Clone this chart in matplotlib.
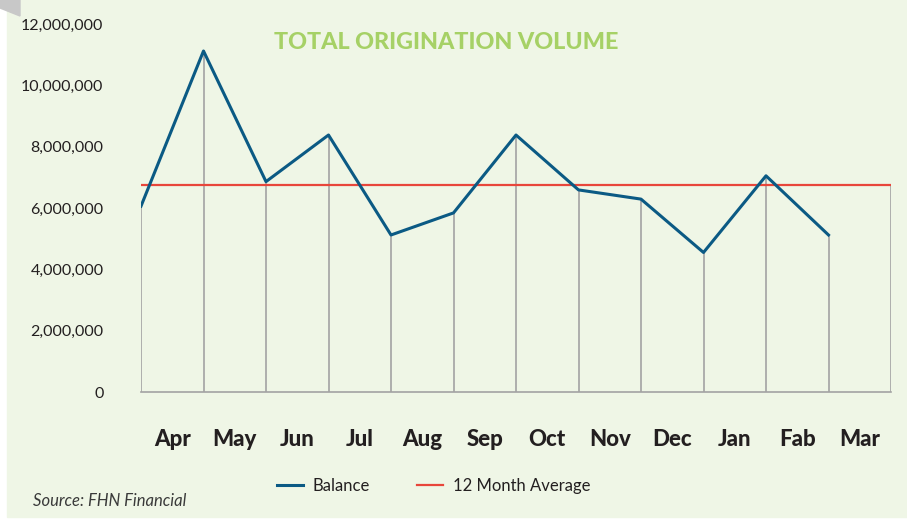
import matplotlib
matplotlib.use('Agg')
import matplotlib.pyplot as plt
from matplotlib.patches import Rectangle, Polygon

# data
months = ['Apr', 'May', 'Jun', 'Jul', 'Aug', 'Sep', 'Oct', 'Nov', 'Dec', 'Jan', 'Fab', 'Mar']
balance = [6060000, 11120000, 6860000, 8380000, 5120000, 5840000,
           8380000, 6590000, 6290000, 4550000, 7050000, 5120000]
avg_value = 6750000
y_ticks = [0, 2000000, 4000000, 6000000, 8000000, 10000000, 12000000]

BG = '#eff6e6'
BLUE = '#0b5a84'
RED = '#e8463b'
GRID = '#a3a3a3'
TEXT = '#231f20'

plt.rcParams['font.family'] = ['Lato', 'DejaVu Sans']

fig = plt.figure(figsize=(9.07, 5.21), dpi=100)
fig.patch.set_facecolor('white')
# light green panel and the little grey corner fold
fig.patches.append(Rectangle((7 / 907, 4 / 521), 900 / 907, 517 / 521,
                             transform=fig.transFigure, color=BG, zorder=-10))
fig.patches.append(Polygon([(0, 1), (20 / 907, 1), (20 / 907, 1 - 16 / 521), (0, 1 - 8 / 521)],
                           closed=True, transform=fig.transFigure, color='#c8c8c8', zorder=-9))

ax = fig.add_axes([141 / 907, 1 - 392 / 521, 750 / 907, 368 / 521])
ax.set_facecolor('none')

n = len(months)
xs = list(range(n))

# drop lines from the axis up to each point (last one up to the average)
for x, v in zip(xs, balance):
    ax.plot([x, x], [0, v], color=GRID, lw=1.2, zorder=1)
ax.plot([n, n], [0, avg_value], color=GRID, lw=1.2, zorder=1)

ax.plot([0, n], [avg_value, avg_value], color=RED, lw=1.6, label='12 Month Average', zorder=2)
ax.plot(xs, balance, color=BLUE, lw=2.2, label='Balance', zorder=3)

ax.set_xlim(0, n)
ax.set_ylim(0, 12000000)
ax.set_xticks([i + 0.5 for i in xs])
ax.set_xticklabels(months, fontsize=16, fontweight='black', color=TEXT)
ax.set_yticks(y_ticks)
ax.set_yticklabels([f'{t:,}' for t in y_ticks], fontsize=11.5, color=TEXT)
ax.tick_params(axis='x', length=0, pad=27)
ax.tick_params(axis='y', length=0, pad=27)

for s in ['top', 'right', 'left']:
    ax.spines[s].set_visible(False)
ax.spines['bottom'].set_color(GRID)
ax.spines['bottom'].set_linewidth(1.2)

fig.text(0.492, 0.919, 'TOTAL ORIGINATION VOLUME', ha='center', va='center',
         fontsize=16.8, fontweight='black', color='#a6d166')

handles, labels = ax.get_legend_handles_labels()
fig.legend(handles[::-1], labels[::-1], loc='center', bbox_to_anchor=(0.478, 1 - 486 / 521),
           ncol=2, frameon=False, fontsize=12, handlelength=1.55, handletextpad=0.6,
           columnspacing=2.8, labelcolor=TEXT)

fig.text(33 / 907, 1 - 501 / 521, 'Source: FHN Financial', ha='left', va='center',
         fontsize=12, style='italic', color='#3a3a3a')

fig.savefig('out.png', dpi=100, facecolor=fig.get_facecolor())
